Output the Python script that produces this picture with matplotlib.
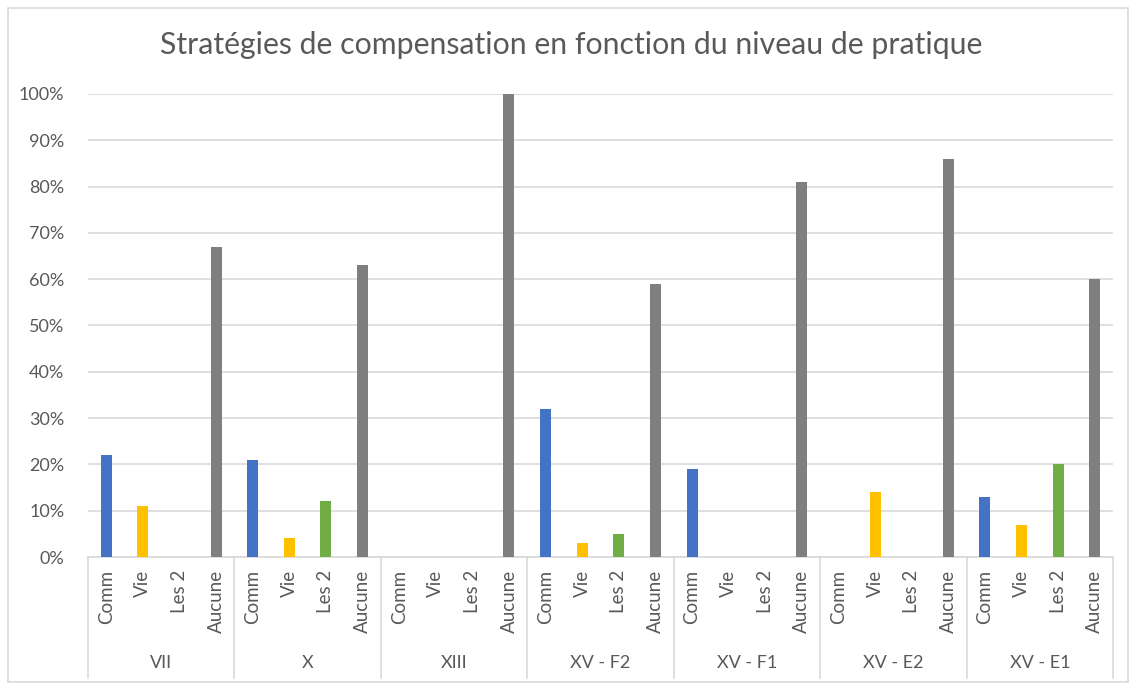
import matplotlib.pyplot as plt
import matplotlib.transforms as mtransforms
from matplotlib.patches import Rectangle
from matplotlib.ticker import PercentFormatter

plt.rcParams['font.family'] = ['Lato', 'DejaVu Sans']

groups = ['VII', 'X', 'XIII', 'XV - F2', 'XV - F1', 'XV - E2', 'XV - E1']
strategies = ['Comm', 'Vie', 'Les 2', 'Aucune']
colors = ['#4472C4', '#FFC000', '#70AD47', '#7F7F7F']

# percentages per group, in strategy order
comm = [22, 21, 0, 32, 19, 0, 13]
vie = [11, 4, 0, 3, 0, 14, 7]
les2 = [0, 12, 0, 5, 0, 0, 20]
aucune = [67, 63, 100, 59, 81, 86, 60]
series = [comm, vie, les2, aucune]

text_col = '#595959'
line_col = '#D9D9D9'

fig = plt.figure(figsize=(11.32, 6.84), dpi=100)
ax = fig.add_axes([88 / 1132, 127 / 684, 1025 / 1132, 463 / 684])

n_sub = len(strategies)
for s, (vals, col) in enumerate(zip(series, colors)):
    xs = [g * n_sub + s + 0.5 for g in range(len(groups))]
    ax.bar(xs, [v / 100 for v in vals], width=0.3, color=col, zorder=3)

ax.set_xlim(0, len(groups) * n_sub)
ax.set_ylim(0, 1)
ax.set_yticks([i / 10 for i in range(11)])
ax.yaxis.set_major_formatter(PercentFormatter(1.0, decimals=0))
ax.tick_params(axis='y', length=0, labelsize=13, labelcolor=text_col, pad=17)
ax.set_xticks([])
ax.grid(axis='y', color=line_col, linewidth=1.2, zorder=0)
for sp in ax.spines.values():
    sp.set_visible(False)

# multi-level category axis
trans = mtransforms.blended_transform_factory(ax.transData, ax.transAxes)
ax.plot([0, len(groups) * n_sub], [0, 0], color=line_col, lw=1.2,
        transform=trans, clip_on=False)
for g in range(len(groups) + 1):
    ax.plot([g * n_sub, g * n_sub], [0, -0.262], color=line_col, lw=1.2,
            transform=trans, clip_on=False)
for g, name in enumerate(groups):
    for s, lab in enumerate(strategies):
        ax.text(g * n_sub + s + 0.5, -0.028, lab, rotation=90, ha='center',
                va='top', fontsize=13.5, color=text_col, transform=trans)
    ax.text(g * n_sub + n_sub / 2, -0.228, name, ha='center', va='center',
            fontsize=13, color=text_col, transform=trans)

fig.text(0.505, 1 - 45 / 684, 'Stratégies de compensation en fonction du niveau de pratique',
         ha='center', va='center', fontsize=21.8, color=text_col)

fig.patches.append(Rectangle((8 / 1132, 2 / 684), 1120 / 1132, 674 / 684,
                             transform=fig.transFigure, fill=False,
                             edgecolor=line_col, lw=1.2))

fig.savefig('out.png', dpi=100, facecolor='white')
